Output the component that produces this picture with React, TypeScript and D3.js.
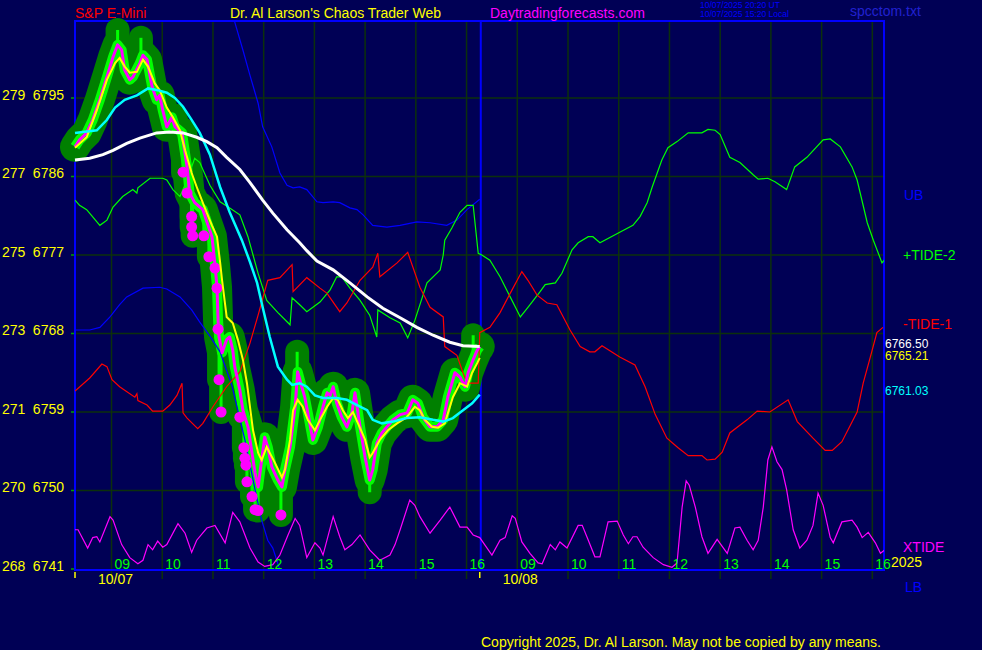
import * as React from "react";
import * as d3 from "d3";

type Pt = [number, number];

// time axis: session hours, day 1 = clock hour, day 2 = clock hour + 8
const priceLine: Pt[] = [
    [8.28, 6789.4], [8.37, 6790.2], [8.51, 6791.0], [8.63, 6792.5], [8.77, 6794.8], [8.91, 6797.4], [9.03, 6799.7],
    [9.12, 6801.1], [9.20, 6800.5], [9.26, 6798.2], [9.36, 6797.1], [9.42, 6797.4], [9.56, 6799.0], [9.62, 6799.9],
    [9.70, 6799.4], [9.80, 6796.3], [9.89, 6794.8], [9.95, 6795.3], [10.01, 6793.6], [10.09, 6791.7], [10.19, 6792.8],
    [10.25, 6791.7], [10.39, 6791.0], [10.49, 6787.1], [10.54, 6784.1], [10.64, 6783.0], [10.80, 6782.2], [10.88, 6780.8],
    [10.98, 6779.1], [11.04, 6775.9], [11.08, 6773.3], [11.10, 6769.6], [11.12, 6767.6], [11.18, 6765.8], [11.27, 6767.3],
    [11.33, 6767.6], [11.39, 6766.1], [11.43, 6764.2], [11.53, 6761.5], [11.59, 6759.2], [11.69, 6757.3], [11.73, 6755.8],
    [11.83, 6752.0], [11.89, 6750.4], [11.96, 6753.5], [12.02, 6756.1], [12.08, 6755.0], [12.16, 6752.7], [12.28, 6751.2],
    [12.36, 6750.4], [12.42, 6752.4], [12.52, 6755.0], [12.62, 6759.6], [12.67, 6763.6], [12.75, 6761.9], [12.81, 6760.7],
    [12.87, 6758.9], [12.97, 6755.8], [13.07, 6757.3], [13.17, 6759.6], [13.25, 6761.2], [13.31, 6760.9], [13.37, 6761.9],
    [13.44, 6760.0], [13.54, 6758.4], [13.64, 6757.3], [13.74, 6758.9], [13.80, 6761.2], [13.90, 6757.3], [14.00, 6753.8],
    [14.09, 6751.2], [14.15, 6752.4], [14.23, 6755.4], [14.33, 6756.6], [14.43, 6757.3], [14.55, 6758.1], [14.69, 6758.7],
    [14.83, 6758.9], [14.94, 6760.4], [15.04, 6760.0], [15.14, 6758.4], [15.28, 6757.3], [15.42, 6757.3], [15.54, 6758.1],
    [15.63, 6760.7], [15.77, 6763.5], [15.87, 6763.0], [15.97, 6761.9], [16.03, 6763.5], [16.13, 6765.0], [16.21, 6766.1],
    [16.26, 6766.5],
];

const smoothLine: Pt[] = [
    [8.28, 6789.3], [8.51, 6790.5], [8.71, 6793.6], [8.91, 6797.1], [9.07, 6799.0], [9.16, 6799.6], [9.26, 6798.6],
    [9.36, 6797.9], [9.50, 6798.0], [9.62, 6799.4], [9.72, 6798.6], [9.85, 6796.7], [9.95, 6795.9], [10.09, 6793.9],
    [10.21, 6792.8], [10.35, 6791.3], [10.45, 6789.0], [10.58, 6786.4], [10.68, 6784.8], [10.78, 6783.3], [10.88, 6781.8],
    [10.98, 6780.4], [11.08, 6779.1], [11.14, 6776.2], [11.18, 6774.1], [11.24, 6771.3], [11.27, 6769.9], [11.39, 6769.2],
    [11.49, 6767.3], [11.59, 6765.0], [11.67, 6762.3], [11.73, 6759.6], [11.79, 6756.9], [11.89, 6754.3], [11.96, 6753.5],
    [12.06, 6755.0], [12.12, 6754.3], [12.22, 6753.2], [12.36, 6751.5], [12.42, 6752.4], [12.52, 6755.8], [12.58, 6759.2],
    [12.67, 6760.4], [12.77, 6759.6], [12.87, 6758.1], [13.01, 6756.9], [13.11, 6758.1], [13.25, 6759.6], [13.37, 6760.6],
    [13.46, 6760.4], [13.56, 6759.2], [13.66, 6758.3], [13.76, 6759.0], [13.86, 6757.7], [14.00, 6755.8], [14.09, 6753.8],
    [14.15, 6754.3], [14.29, 6755.8], [14.45, 6756.9], [14.63, 6757.7], [14.82, 6758.4], [14.98, 6759.6], [15.08, 6759.2],
    [15.18, 6758.1], [15.32, 6757.3], [15.44, 6757.2], [15.57, 6757.7], [15.73, 6760.7], [15.87, 6762.3], [16.01, 6761.9],
    [16.11, 6763.5], [16.21, 6764.6], [16.26, 6765.2],
];

const fastAvg: Pt[] = [
    [8.28, 6791.0], [8.71, 6791.3], [8.91, 6792.5], [9.07, 6793.9], [9.26, 6794.8], [9.50, 6795.3], [9.72, 6796.1],
    [9.91, 6795.9], [10.09, 6795.6], [10.25, 6795.0], [10.41, 6794.0], [10.58, 6792.5], [10.74, 6791.0], [10.94, 6788.5],
    [11.14, 6784.8], [11.33, 6781.9], [11.57, 6778.7], [11.73, 6776.2], [11.87, 6773.8], [11.98, 6771.0], [12.12, 6767.6],
    [12.28, 6764.2], [12.46, 6762.7], [12.56, 6762.1], [12.71, 6762.3], [12.85, 6761.9], [13.01, 6760.9], [13.17, 6760.6],
    [13.44, 6760.6], [13.64, 6760.4], [13.84, 6759.8], [14.04, 6759.2], [14.15, 6758.1], [14.33, 6757.7], [14.55, 6757.9],
    [14.82, 6758.3], [15.08, 6758.4], [15.34, 6758.1], [15.54, 6757.9], [15.73, 6758.3], [15.93, 6759.2], [16.11, 6760.0],
    [16.26, 6761.0],
];

const slowAvg: Pt[] = [
    [8.28, 6787.9], [8.57, 6788.1], [8.83, 6788.5], [9.03, 6789.0], [9.30, 6789.8], [9.56, 6790.4], [9.89, 6791.0],
    [10.15, 6791.1], [10.41, 6791.0], [10.68, 6790.5], [10.88, 6790.0], [11.08, 6789.3], [11.27, 6788.2], [11.53, 6786.8],
    [11.73, 6785.3], [11.98, 6783.3], [12.18, 6781.8], [12.46, 6779.9], [12.71, 6778.4], [12.85, 6777.5], [13.05, 6776.3],
    [13.37, 6775.3], [13.70, 6773.8], [14.04, 6772.2], [14.35, 6770.9], [14.69, 6769.8], [15.02, 6768.7], [15.34, 6767.8],
    [15.67, 6767.0], [15.93, 6766.6], [16.26, 6766.5],
];

const upperBand: Pt[] = [
    [11.33, 6806.8], [11.43, 6803.7], [11.59, 6800.5], [11.73, 6797.6], [11.89, 6794.4], [11.98, 6791.7], [12.16, 6789.4],
    [12.32, 6786.4], [12.46, 6785.0], [12.58, 6784.7], [12.71, 6784.8], [12.85, 6784.5], [13.05, 6783.1], [13.17, 6783.0],
    [13.37, 6783.1], [13.50, 6783.0], [13.70, 6782.4], [13.84, 6782.2], [13.96, 6781.6], [14.15, 6780.4], [14.43, 6780.2],
    [14.69, 6780.4], [15.02, 6780.8], [15.28, 6780.7], [15.61, 6780.4], [15.81, 6781.0], [16.01, 6782.2], [16.26, 6783.4],
];

const lowerBand: Pt[] = [
    [8.28, 6768.4], [8.57, 6768.4], [8.77, 6768.7], [8.97, 6769.9], [9.16, 6771.3], [9.30, 6772.2], [9.62, 6773.2],
    [9.95, 6773.3], [10.09, 6773.1], [10.35, 6772.2], [10.58, 6770.7], [10.74, 6769.3], [10.94, 6767.7], [11.14, 6765.9],
    [11.37, 6762.1], [11.63, 6755.8], [11.83, 6750.1], [11.96, 6746.6], [12.08, 6744.3], [12.18, 6743.4], [12.32, 6740.9],
    [12.40, 6738.6],
];

const tide2: Pt[] = [
    [8.28, 6783.3], [8.37, 6782.7], [8.51, 6782.2], [8.77, 6780.4], [8.91, 6781.0], [9.03, 6782.5], [9.22, 6783.7],
    [9.42, 6784.5], [9.50, 6784.1], [9.52, 6784.7], [9.76, 6785.8], [10.01, 6785.8], [10.09, 6785.6], [10.21, 6784.5],
    [10.35, 6783.7], [10.49, 6785.6], [10.64, 6788.1], [10.74, 6787.6], [10.94, 6785.0], [11.14, 6783.1], [11.33, 6782.4],
    [11.53, 6781.6], [11.69, 6779.1], [11.89, 6774.9], [12.06, 6771.8], [12.28, 6770.4], [12.52, 6769.0], [12.56, 6772.1],
    [12.71, 6771.3], [12.85, 6770.5], [13.11, 6771.6], [13.31, 6773.0], [13.44, 6774.5], [13.54, 6774.5], [13.70, 6773.2],
    [13.90, 6771.8], [14.09, 6770.1], [14.23, 6767.6], [14.25, 6770.7], [14.49, 6769.8], [14.69, 6769.2], [14.84, 6767.5],
    [14.98, 6769.5], [15.22, 6773.8], [15.48, 6775.3], [15.54, 6777.0], [15.57, 6778.7], [15.71, 6780.1], [15.87, 6781.9],
    [16.01, 6782.7], [16.13, 6782.7], [16.23, 6777.2], [16.30, 6777.0], [16.46, 6776.4], [16.66, 6774.5], [16.86, 6772.2],
    [17.06, 6769.9], [17.21, 6771.0], [17.45, 6772.8], [17.55, 6773.6], [17.75, 6773.8], [17.88, 6774.9], [18.08, 6777.6],
    [18.20, 6778.4], [18.40, 6779.1], [18.49, 6779.1], [18.63, 6778.4], [19.02, 6779.6], [19.28, 6780.4], [19.42, 6781.4],
    [19.56, 6783.0], [19.66, 6784.8], [19.85, 6787.9], [19.97, 6789.3], [20.15, 6790.0], [20.37, 6791.0], [20.64, 6791.0],
    [20.76, 6791.4], [20.90, 6791.3], [21.00, 6790.8], [21.19, 6788.2], [21.39, 6787.6], [21.65, 6786.2], [21.75, 6785.7],
    [21.94, 6785.8], [22.08, 6785.4], [22.31, 6784.5], [22.47, 6787.1], [22.71, 6788.2], [23.03, 6790.2], [23.17, 6790.3],
    [23.37, 6789.4], [23.60, 6787.1], [23.70, 6785.6], [23.90, 6780.7], [24.02, 6778.7], [24.19, 6776.1], [24.25, 6776.5],
];

const tide1: Pt[] = [
    [8.28, 6761.4], [8.57, 6762.9], [8.81, 6764.5], [8.91, 6764.2], [9.01, 6762.7], [9.16, 6761.9], [9.46, 6760.7],
    [9.50, 6761.1], [9.52, 6760.3], [9.70, 6759.8], [9.81, 6759.1], [10.01, 6759.1], [10.15, 6759.8], [10.29, 6760.9],
    [10.39, 6762.3], [10.41, 6758.9], [10.49, 6758.3], [10.70, 6757.1], [10.80, 6757.7], [11.00, 6759.6], [11.27, 6761.9],
    [11.53, 6763.6], [11.73, 6766.9], [11.89, 6770.1], [12.08, 6774.1], [12.32, 6774.4], [12.56, 6775.9], [12.58, 6772.8],
    [12.85, 6774.4], [13.11, 6773.2], [13.25, 6772.6], [13.50, 6770.5], [13.64, 6771.5], [13.90, 6774.1], [14.15, 6775.6],
    [14.25, 6777.2], [14.29, 6774.5], [14.63, 6776.1], [14.84, 6777.3], [15.08, 6773.3], [15.28, 6771.0], [15.54, 6769.9],
    [15.57, 6766.5], [15.81, 6765.5], [15.93, 6763.5], [16.01, 6762.3], [16.23, 6762.3], [16.26, 6768.1], [16.46, 6768.7],
    [16.66, 6770.4], [16.86, 6772.6], [17.09, 6775.1], [17.21, 6774.1], [17.39, 6772.4], [17.59, 6771.5], [17.78, 6771.3],
    [18.04, 6768.4], [18.24, 6766.5], [18.43, 6765.9], [18.53, 6765.9], [18.67, 6766.6], [19.02, 6765.3], [19.32, 6764.4],
    [19.52, 6761.9], [19.72, 6758.7], [19.95, 6756.0], [20.17, 6754.9], [20.37, 6754.0], [20.64, 6754.0], [20.74, 6753.5],
    [20.90, 6753.6], [21.04, 6754.4], [21.19, 6756.6], [21.53, 6758.1], [21.73, 6759.1], [21.98, 6759.0], [22.34, 6760.4],
    [22.52, 6757.9], [22.83, 6756.0], [23.07, 6754.6], [23.21, 6754.6], [23.40, 6755.6], [23.70, 6759.0], [23.82, 6762.3],
    [23.96, 6765.3], [24.09, 6768.1], [24.21, 6768.7],
];

const xtide: Pt[] = [
    [8.28, 6745.5], [8.34, 6745.5], [8.53, 6743.4], [8.63, 6744.6], [8.71, 6744.7], [8.77, 6744.1], [8.97, 6747.0],
    [9.03, 6746.6], [9.20, 6743.8], [9.36, 6742.3], [9.52, 6741.6], [9.62, 6742.0], [9.72, 6743.8], [9.81, 6743.2],
    [9.91, 6744.2], [10.01, 6743.5], [10.09, 6743.8], [10.31, 6746.2], [10.45, 6745.1], [10.58, 6742.9], [10.68, 6744.3],
    [10.88, 6745.7], [11.04, 6746.0], [11.24, 6744.0], [11.39, 6747.5], [11.53, 6746.4], [11.73, 6743.4], [11.89, 6741.8],
    [12.02, 6741.3], [12.18, 6741.5], [12.32, 6742.6], [12.48, 6744.9], [12.62, 6746.8], [12.71, 6746.0], [12.85, 6742.3],
    [13.01, 6744.0], [13.11, 6743.4], [13.17, 6742.6], [13.37, 6747.0], [13.50, 6744.7], [13.60, 6743.2], [13.74, 6743.8],
    [13.90, 6744.9], [14.09, 6743.2], [14.29, 6742.0], [14.49, 6742.6], [14.59, 6743.8], [14.69, 6745.5], [14.88, 6748.9],
    [14.98, 6748.3], [15.08, 6747.0], [15.28, 6745.1], [15.48, 6746.6], [15.67, 6748.1], [15.87, 6745.8], [16.01, 6745.8],
    [16.13, 6744.9], [16.26, 6744.6], [16.50, 6742.6], [16.66, 6744.3], [16.76, 6744.6], [16.90, 6747.1], [16.96, 6746.8],
    [17.09, 6744.1], [17.25, 6742.8], [17.41, 6741.7], [17.49, 6741.6], [17.65, 6743.8], [17.75, 6743.2], [17.84, 6744.1],
    [17.98, 6743.4], [18.20, 6746.0], [18.28, 6746.0], [18.40, 6744.3], [18.53, 6742.4], [18.63, 6742.4], [18.79, 6746.4],
    [18.97, 6746.5], [19.09, 6744.9], [19.19, 6743.9], [19.28, 6744.7], [19.36, 6744.7], [19.48, 6743.5], [19.68, 6742.3],
    [19.88, 6741.5], [20.05, 6741.2], [20.15, 6741.7], [20.25, 6748.1], [20.33, 6751.1], [20.39, 6750.6], [20.51, 6748.1],
    [20.64, 6744.7], [20.76, 6742.8], [20.94, 6744.4], [21.14, 6742.8], [21.29, 6745.7], [21.39, 6745.8], [21.53, 6744.3],
    [21.65, 6743.2], [21.75, 6744.3], [21.85, 6748.1], [21.94, 6753.5], [22.02, 6755.0], [22.12, 6753.3], [22.22, 6752.4],
    [22.31, 6750.1], [22.44, 6745.5], [22.57, 6743.4], [22.71, 6744.3], [22.83, 6746.0], [22.93, 6749.7], [23.03, 6748.3],
    [23.17, 6744.6], [23.23, 6744.0], [23.40, 6746.4], [23.60, 6746.6], [23.70, 6745.8], [23.80, 6744.6], [23.92, 6745.2],
    [24.06, 6744.0], [24.16, 6742.8], [24.25, 6743.2],
];

// magenta markers at bar lows
const lowDots: Pt[] = [
    [10.41, 6786.5], [10.49, 6784.1], [10.58, 6781.4], [10.58, 6780.2], [10.60, 6779.2], [10.82, 6779.2], [10.92, 6776.8],
    [11.04, 6775.5], [11.08, 6773.2], [11.10, 6768.5], [11.12, 6762.7], [11.16, 6759.0], [11.53, 6758.4], [11.61, 6754.9],
    [11.63, 6753.7], [11.65, 6752.9], [11.67, 6751.0], [11.77, 6749.3], [11.83, 6747.8], [11.89, 6747.7], [12.34, 6747.2],
];

// bar extremes sticking out of the band
const barSpikes: Pt[] = [
    [9.12, 6802.8], [9.58, 6801.9], [12.66, 6765.9], [14.09, 6749.8], [16.13, 6767.8],
];

const priceTicks = [6795, 6786, 6777, 6768, 6759, 6750, 6741];
const altTicks = ["279", "277", "275", "273", "271", "270", "268"];
const hourTicks = [9, 10, 11, 12, 13, 14, 15, 16, 17, 18, 19, 20, 21, 22, 23, 24];
const hourLabels = ["09", "10", "11", "12", "13", "14", "15", "16", "09", "10", "11", "12", "13", "14", "15", "16"];
const dayStarts = [8.28, 16.26];
const dayLabels = ["10/07", "10/08"];
const sessionBreak = 16.28;
const lastQuotes = [6766.50, 6765.21, 6761.03];
const lastQuoteColors = ["#ffffff", "#ffff00", "#00ffff"];

const FONT = "'Liberation Sans', Arial, sans-serif";
const BG = "#000055";
const GRID = "#0c300c";
const BLUE = "#0000ff";

const left = 75, right = 884, top = 21, bottom = 570;

const xScale = d3.scaleLinear().domain([8.28, 24.23]).range([left, right]);
const yScale = d3.scaleLinear().domain([6741, 6804]).range([569, 19.5]);

const line = d3.line<Pt>().x(d => xScale(d[0])).y(d => yScale(d[1]));

const bisect = d3.bisector((d: Pt) => d[0]).left;
function priceAt(h: number) {
    const i = Math.max(1, Math.min(priceLine.length - 1, bisect(priceLine, h)));
    const a = priceLine[i - 1], b = priceLine[i];
    const t = b[0] === a[0] ? 0 : (h - a[0]) / (b[0] - a[0]);
    return a[1] + (b[1] - a[1]) * Math.max(0, Math.min(1, t));
}

export default function App() {
    const pricePath = line(priceLine) || "";
    const extremes = [...lowDots, ...barSpikes];

    return <svg width={982} height={650} style={{ position: "absolute", left: 0, top: 0 }} fontFamily={FONT}>
        <defs>
            <clipPath id="plotClip">
                <rect x={left} y={top} width={right - left} height={bottom - top} />
            </clipPath>
        </defs>
        <rect x={0} y={0} width={982} height={650} fill={BG} />

        {/* grid */}
        {priceTicks.slice(0, -1).map((v, i) =>
            <line key={"hg" + i} x1={left} x2={right} y1={yScale(v)} y2={yScale(v)} stroke={GRID} strokeWidth={1.5} />)}
        {priceTicks.map((v, i) =>
            <line key={"lt" + i} x1={71} x2={left} y1={yScale(v)} y2={yScale(v)} stroke="#00a000" strokeWidth={1.5} />)}
        {hourTicks.map((h, i) =>
            <line key={"vg" + i} x1={xScale(h)} x2={xScale(h)} y1={top} y2={579} stroke={GRID} strokeWidth={1.5} />)}

        {/* frame */}
        <rect x={left} y={top} width={right - left} height={bottom - top} fill="none" stroke={BLUE} strokeWidth={2} />
        <line x1={xScale(sessionBreak)} x2={xScale(sessionBreak)} y1={top} y2={bottom} stroke={BLUE} strokeWidth={2} />

        {/* price halo */}
        <path d={pricePath} fill="none" stroke="#008000" strokeWidth={30} strokeLinejoin="round" strokeLinecap="round" />
        {extremes.map((d, i) =>
            <line key={"hx" + i} x1={xScale(d[0])} x2={xScale(d[0])} y1={yScale(priceAt(d[0]))} y2={yScale(d[1])}
                stroke="#008000" strokeWidth={24} strokeLinecap="round" />)}
        <path d={pricePath} fill="none" stroke="#00ff00" strokeWidth={10} strokeLinejoin="round" />
        {extremes.map((d, i) =>
            <line key={"bx" + i} x1={xScale(d[0])} x2={xScale(d[0])} y1={yScale(priceAt(d[0]))} y2={yScale(d[1])}
                stroke="#00ff00" strokeWidth={3} />)}

        {/* tides and bands */}
        <g clipPath="url(#plotClip)" fill="none" strokeWidth={1.2}>
            <path d={line(upperBand) || ""} stroke={BLUE} />
            <path d={line(lowerBand) || ""} stroke={BLUE} />
            <path d={line(tide2) || ""} stroke="#00ff00" />
            <path d={line(tide1) || ""} stroke="#ff0000" />
            <path d={line(xtide) || ""} stroke="#ff00ff" />
        </g>

        <path d={pricePath} fill="none" stroke="#ff00ff" strokeWidth={3} strokeLinejoin="round" />
        {lowDots.map((d, i) =>
            <circle key={"dot" + i} cx={xScale(d[0])} cy={yScale(d[1])} r={5.5} fill="#ff00ff" />)}
        <path d={line(smoothLine) || ""} fill="none" stroke="#ffff00" strokeWidth={2} />
        <path d={line(fastAvg) || ""} fill="none" stroke="#00ffff" strokeWidth={2.5} />
        <path d={line(slowAvg) || ""} fill="none" stroke="#ffffff" strokeWidth={3} />

        {/* left axis */}
        {priceTicks.map((v, i) => <g key={"yl" + i} fill="#ffff00" fontSize={14}>
            <text x={2} y={yScale(v) + 1.5}>{altTicks[i]}</text>
            <text x={64} y={yScale(v) + 1.5} textAnchor="end">{v}</text>
        </g>)}

        {/* time axis */}
        {hourTicks.map((h, i) =>
            <text key={"hl" + i} x={xScale(h) + 3} y={569} fill="#00ff00" fontSize={14}>{hourLabels[i]}</text>)}
        {dayStarts.map((h, i) => <g key={"dl" + i}>
            <line x1={xScale(h)} x2={xScale(h)} y1={572} y2={578} stroke="#ffff00" strokeWidth={1.5} />
            <text x={xScale(h) + 23} y={584} fill="#ffff00" fontSize={14}>{dayLabels[i]}</text>
        </g>)}

        {/* right labels */}
        {lastQuotes.map((v, i) =>
            <text key={"lq" + i} x={885} y={yScale(v) + (i === 1 ? 2 : 1)} fill={lastQuoteColors[i]} fontSize={12}>{v.toFixed(2)}</text>)}
        <text x={904} y={yScale(upperBand[upperBand.length - 1][1]) + 1} fill={BLUE} fontSize={14}>UB</text>
        <text x={903} y={yScale(tide2[tide2.length - 1][1]) + 1} fill="#00ff00" fontSize={14}>+TIDE-2</text>
        <text x={903} y={yScale(tide1[tide1.length - 1][1]) + 2} fill="#ff0000" fontSize={14}>-TIDE-1</text>
        <text x={903} y={yScale(xtide[xtide.length - 1][1]) + 2} fill="#ff00ff" fontSize={14}>XTIDE</text>
        <text x={891} y={567} fill="#ffff00" fontSize={14}>2025</text>
        <text x={905} y={592} fill={BLUE} fontSize={14}>LB</text>

        {/* header */}
        <text x={75} y={18} fill="#ff0000" fontSize={14}>{"S&P E-Mini"}</text>
        <text x={230} y={18} fill="#ffff00" fontSize={14}>Dr. Al Larson's Chaos Trader Web</text>
        <text x={490} y={18} fill="#ff00ff" fontSize={14}>Daytradingforecasts.com</text>
        <text x={700} y={8} fill={BLUE} fontSize={8.5}>10/07/2025 20:20 UT</text>
        <text x={700} y={17} fill={BLUE} fontSize={8.5}>10/07/2025 15:20 Local</text>
        <text x={850} y={16} fill="#2020d0" fontSize={14}>spcctom.txt</text>

        <text x={481} y={647} fill="#ffff00" fontSize={14}>Copyright 2025, Dr. Al Larson. May not be copied by any means.</text>
    </svg>;
}
